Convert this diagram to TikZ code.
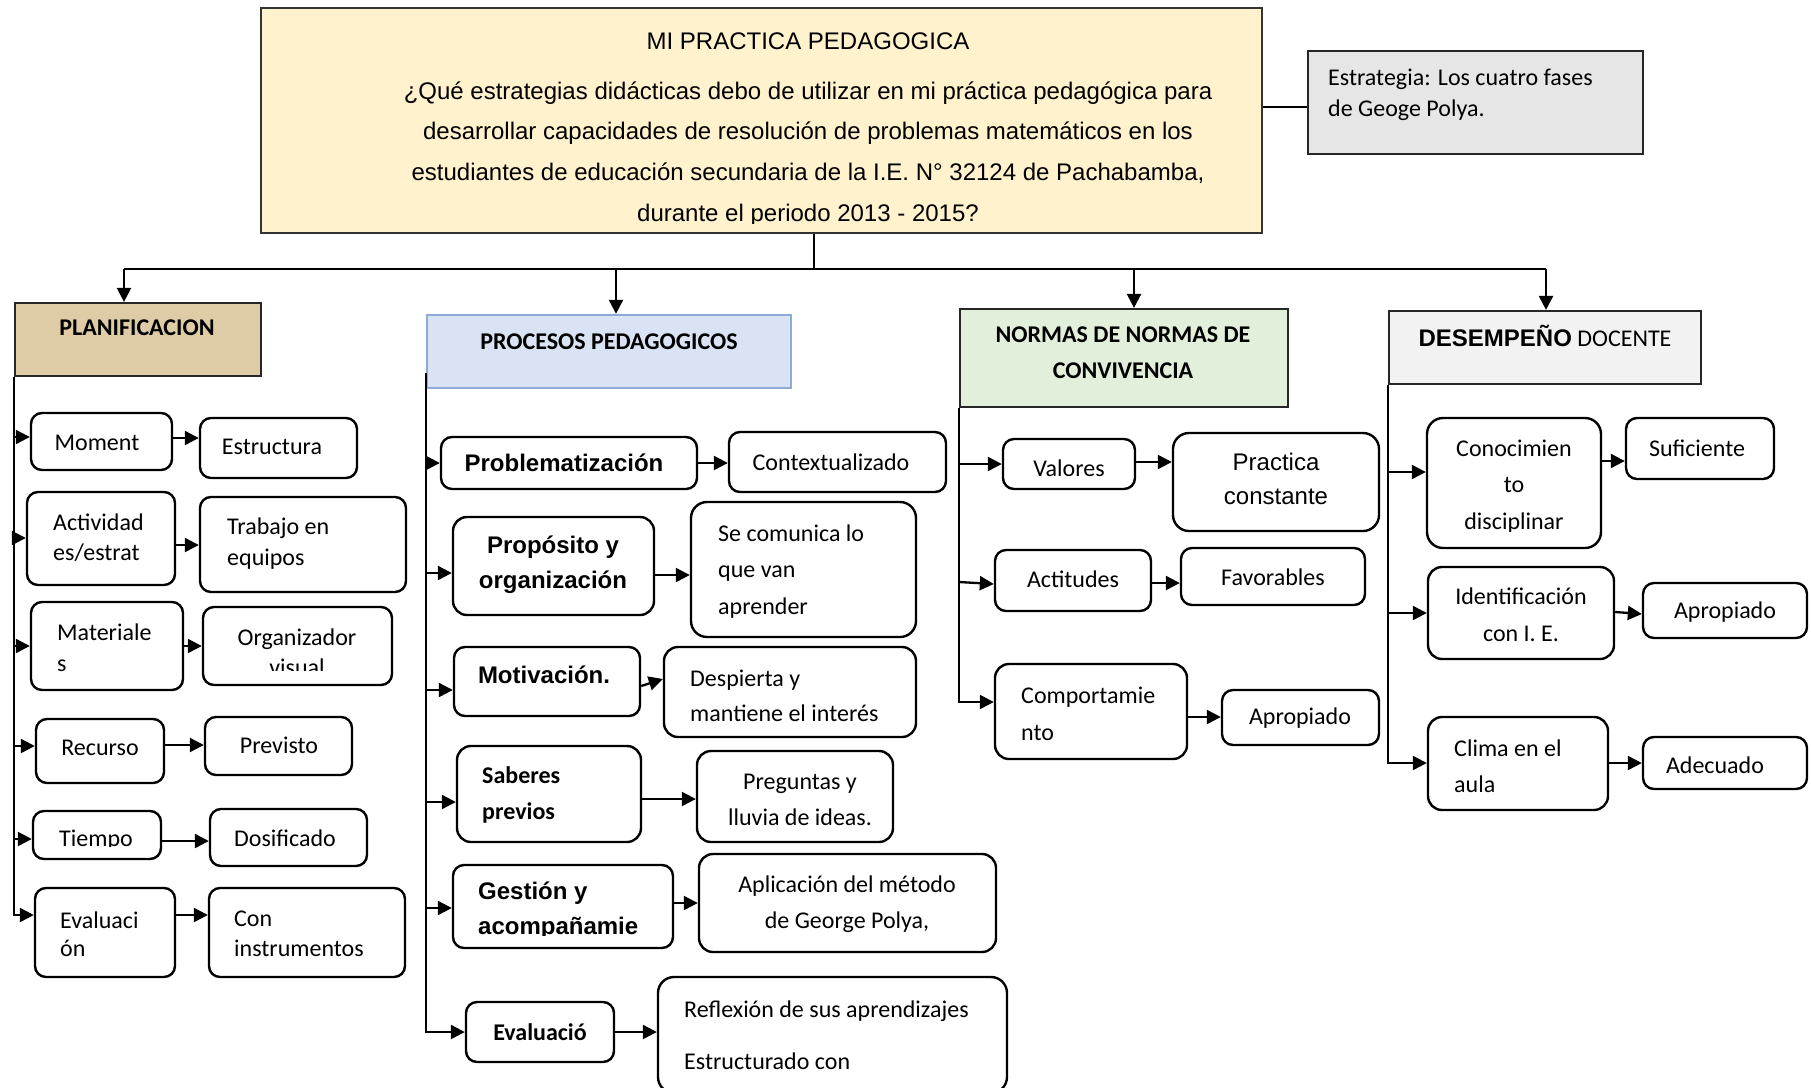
\documentclass[tikz,border=0pt]{standalone}
\usepackage{fontspec}
\setmainfont{Carlito}
\newfontfamily\arialf{Liberation Sans}
\usetikzlibrary{arrows.meta}
\definecolor{mainfill}{HTML}{FFF2CC}
\definecolor{stratfill}{HTML}{E7E6E6}
\definecolor{planfill}{HTML}{DDCCA6}
\definecolor{procfill}{HTML}{DAE3F3}
\definecolor{procdraw}{HTML}{8EAADB}
\definecolor{normfill}{HTML}{E2EFDA}
\definecolor{desfill}{HTML}{F2F2F2}
\newcommand\rb[6]{\node[#1, minimum width={#5-#3}, minimum height={#6-#4}] (#2) at ({(#3+#5)/2},{(#4+#6)/2}) {};}
\newcommand\fs[1]{\fontsize{24}{#1}\selectfont}
\tikzset{
  rbox/.style={draw=black, line width=2.4pt, rounded corners=11pt, fill=white, inner sep=0pt},
  hbox/.style={draw=black!85, line width=2.2pt, inner sep=0pt},
  conn/.style={line width=2.3pt},
  arr/.style={line width=2.3pt, -{Triangle[length=14pt,width=14pt]}},
  tx/.style={inner sep=0pt, font=\fs{30}, align=center},
  tl/.style={inner sep=0pt, anchor=west, align=left, font=\fs{30}},
}
\begin{document}
\begin{tikzpicture}[x=1pt,y=-1pt]
\useasboundingbox (0,0) rectangle (1811,1087);
\fill[white] (0,0) rectangle (1811,1087);
\clip (0,0) rectangle (1811,1087);

% ---------- top ----------
\rb{hbox, fill=mainfill, draw=black!80}{main}{261}{8}{1262}{233}
\node[tx, font=\arialf\fs{30}] (title) at (808,41) {MI PRACTICA PEDAGOGICA};
\begin{scope}
\clip (261,8) rectangle (1262,223);
\node[tx, font=\arialf\fs{40.7}] (question) at (808,154) {¿Qué estrategias didácticas debo de utilizar en mi práctica pedagógica para\\desarrollar capacidades de resolución de problemas matemáticos en los\\estudiantes de educación secundaria de la I.E. N° 32124 de Pachabamba,\\durante el periodo 2013 - 2015?};
\end{scope}
\rb{hbox, fill=stratfill}{strat}{1308}{51}{1643}{154}
\node[tl, font=\fs{31}] (strattext) at (1328,94.5) {Estrategia: Los cuatro fases\\de Geoge Polya.};

% ---------- headers ----------
\rb{hbox, fill=planfill}{plan}{15}{303}{261}{376}
\node[tx, font=\bfseries\fs{30}] (plantext) at (137,328) {PLANIFICACION};
\rb{hbox, fill=procfill, draw=procdraw, line width=2.4pt}{proc}{427}{315}{791}{388}
\node[tx, font=\bfseries\fs{30}] (proctext) at (609,342) {PROCESOS PEDAGOGICOS};
\rb{hbox, fill=normfill}{norm}{960}{309}{1288}{407}
\node[tx, font=\bfseries\fs{36}] (normtext) at (1123,353) {NORMAS DE NORMAS DE\\CONVIVENCIA};
\rb{hbox, fill=desfill}{des}{1389}{311}{1701}{384}
\node[tx] (destext) at (1545,336) {{\arialf\bfseries DESEMPEÑO} DOCENTE};

% ---------- PLANIFICACION ----------
\rb{rbox}{pm1}{31}{413}{172}{470}
\rb{rbox}{pe1}{200}{418}{357}{478}
\rb{rbox}{pm2}{27}{492}{175}{585}
\rb{rbox}{pe2}{200}{497}{406}{592}
\rb{rbox}{pm3}{31}{602}{183}{690}
\rb{rbox}{pe3}{203}{607}{392}{685}
\rb{rbox}{pm4}{36}{719}{164}{783}
\rb{rbox}{pe4}{205}{717}{352}{775}
\rb{rbox}{pm5}{33}{811}{161}{859}
\rb{rbox}{pe5}{210}{809}{367}{866}
\rb{rbox}{pm6}{35}{888}{175}{977}
\rb{rbox}{pe6}{209}{888}{405}{977}
\node[tx] (tm1) at (97,443) {Moment};
\node[tx] (te1) at (272,447) {Estructura};
\node[tl] (tm2) at (53,538) {Actividad\\es/estrat};
\node[tl, font=\fs{31}] (te2) at (227,543.5) {Trabajo en\\equipos};
\node[tl, font=\fs{31}] (tm3) at (57,647.5) {Materiale\\s};
\begin{scope}
\clip (203,600) rectangle (392,670);
\node[tx] (te3) at (297,652) {Organizador\\visual};
\end{scope}
\node[tx] (tm4) at (100,748) {Recurso};
\node[tx] (te4) at (279,745) {Previsto};
\begin{scope}
\clip (33,800) rectangle (161,846);
\node[tx] (tm5) at (96,840) {Tiempo};
\end{scope}
\node[tx] (te5) at (285,838) {Dosificado};
\node[tl, font=\fs{28}] (tm6) at (60,934) {Evaluaci\\ón};
\node[tl] (te6) at (234,934) {Con\\instrumentos};

% ---------- PROCESOS ----------
\rb{rbox}{pp1}{441}{437}{697}{489}
\rb{rbox}{pq1}{729}{432}{946}{492}
\rb{rbox, rounded corners=14pt}{pp2}{453}{517}{654}{615}
\rb{rbox, rounded corners=16pt}{pq2}{691}{502}{916}{637}
\rb{rbox}{pp3}{454}{647}{640}{716}
\rb{rbox, rounded corners=14pt}{pq3}{664}{647}{916}{737}
\rb{rbox, rounded corners=14pt}{pp4}{457}{746}{641}{842}
\rb{rbox, rounded corners=14pt}{pq4}{697}{751}{893}{842}
\rb{rbox}{pp5}{453}{865}{673}{948}
\rb{rbox, rounded corners=14pt}{pq5}{699}{854}{996}{952}
\rb{rbox}{pp6}{466}{1002}{614}{1062}
\rb{rbox, rounded corners=16pt}{pq6}{658}{977}{1007}{1093}
\node[tx, font=\arialf\bfseries\fs{30}] (tp1) at (564,463) {Problematización};
\node[tx] (tq1) at (831,462) {Contextualizado};
\node[tx, font=\arialf\bfseries\fs{35}] (tp2) at (553,564.5) {Propósito y\\organización};
\node[tl, font=\fs{36.5}] (tq2) at (718,571.5) {Se comunica lo\\que van\\aprender};
\node[tx, font=\arialf\bfseries\fs{30}] (tp3) at (544,675) {Motivación.};
\node[tl, font=\fs{35}] (tq3) at (690,695.5) {Despierta y\\mantiene el interés};
\node[tl, font=\bfseries\fs{36}] (tp4) at (482,795) {Saberes\\previos};
\node[tx, font=\fs{36}] (tq4) at (800,800) {Preguntas y\\lluvia de ideas.};
\begin{scope}
\clip (453,860) rectangle (673,935);
\node[tl, font=\arialf\bfseries\fs{35}] (tp5) at (478,910.5) {Gestión y\\acompañamie};
\end{scope}
\node[tx, font=\fs{36}] (tq5) at (847,904) {Aplicación del método\\de George Polya,};
\node[tx, font=\bfseries\fs{30}] (tp6) at (540,1032) {Evaluació};
\node[tl, font=\fs{52}] (tq6) at (684,1035) {Reflexión de sus aprendizajes\\Estructurado con};

% ---------- NORMAS ----------
\rb{rbox}{pn1}{1003}{439}{1135}{489}
\rb{rbox, rounded corners=16pt}{pr1}{1173}{433}{1379}{531}
\rb{rbox}{pn2}{995}{550}{1151}{611}
\rb{rbox}{pr2}{1181}{548}{1365}{605}
\rb{rbox, rounded corners=14pt}{pn3}{995}{664}{1187}{759}
\rb{rbox}{pr3}{1222}{690}{1379}{745}
\node[tx] (tn1) at (1069,468) {Valores};
\node[tx, font=\arialf\fs{34}] (tr1) at (1276,479) {Practica\\constante};
\node[tx] (tn2) at (1073,579) {Actitudes};
\node[tx] (tr2) at (1273,577) {Favorables};
\node[tl, font=\fs{37}] (tn3) at (1021,713.5) {Comportamie\\nto};
\node[tx] (tr3) at (1300,718) {Apropiado};

% ---------- DESEMPENO ----------
\rb{rbox, rounded corners=16pt}{pd1}{1427}{418}{1601}{548}
\rb{rbox}{ps1}{1626}{418}{1774}{479}
\rb{rbox, rounded corners=14pt}{pd2}{1428}{567}{1614}{659}
\rb{rbox}{ps2}{1643}{583}{1807}{638}
\rb{rbox, rounded corners=14pt}{pd3}{1428}{717}{1608}{810}
\rb{rbox}{ps3}{1643}{737}{1807}{789}
\begin{scope}
\clip (1427,410) rectangle (1601,531);
\node[tx, font=\fs{36.5}] (td1) at (1514,486.5) {Conocimien\\to\\disciplinar};
\end{scope}
\node[tx] (ts1) at (1697,448) {Suficiente};
\node[tx, font=\fs{37}] (td2) at (1521,614.5) {Identificación\\con I. E.};
\node[tx] (ts2) at (1725,612) {Apropiado};
\node[tl, font=\fs{36}] (td3) at (1454,766) {Clima en el\\aula};
\node[tx] (ts3) at (1715,765) {Adecuado};

% ---------- connectors ----------
\coordinate (hub) at (814,269);
\coordinate (d1) at (124,269);
\coordinate (d2) at (616,269);
\coordinate (d3) at (1134,269);
\coordinate (d4) at (1546,269);
\draw[line width=1.2pt] (main.south -| hub) -- (hub);
\draw[conn] (d1) -- (d4);
\draw[arr] (d1) -- (d1 |- plan.north);
\draw[arr] (d2) -- (d2 |- proc.north);
\draw[arr] (d3) -- (d3 |- norm.north);
\draw[arr] (d4) -- (d4 |- des.north);
\draw[conn] (main.east |- 0,107) -- (strat.west |- 0,107);

% spines
\draw[arr] (plan.south west) |- (pm6.west |- 0,915);
\draw[arr] (proc.west |- 0,373) |- (pp6.west |- 0,1032);
\draw[arr] (norm.south west) |- (pn3.west |- 0,702);
\draw[arr] (des.south west) |- (pd3.west |- 0,763);

% PLAN arrows
\draw[arr] (plan.west |- 0,437) -- (pm1.west |- 0,437);
\draw[arr] (plan.west |- 0,538) -- (pm2.west |- 0,538);
\draw[arr] (plan.west |- 0,646) -- (pm3.west |- 0,646);
\draw[arr] (plan.west |- 0,746) -- (pm4.west |- 0,746);
\draw[arr] (plan.west |- 0,839) -- (pm5.west |- 0,839);
\draw[arr] (pm1.east |- 0,438) -- (pe1.west |- 0,438);
\draw[arr] (pm2.east |- 0,545) -- (pe2.west |- 0,545);
\draw[arr] (pm3.east |- 0,646) -- (pe3.west |- 0,646);
\draw[arr] (pm4.east |- 0,745) -- (pe4.west |- 0,745);
\draw[arr] (pm5.east |- 0,841) -- (pe5.west |- 0,841);
\draw[arr] (pm6.east |- 0,915) -- (pe6.west |- 0,915);

% PROC arrows
\draw[arr] (proc.west |- 0,463) -- (pp1.west |- 0,463);
\draw[arr] (proc.west |- 0,573) -- (pp2.west |- 0,573);
\draw[arr] (proc.west |- 0,690) -- (pp3.west |- 0,690);
\draw[arr] (proc.west |- 0,802) -- (pp4.west |- 0,802);
\draw[arr] (proc.west |- 0,908) -- (pp5.west |- 0,908);
\draw[arr] (pp1.east |- 0,463) -- (pq1.west |- 0,463);
\draw[arr] (pp2.east |- 0,575) -- (pq2.west |- 0,575);
\draw[arr] (pp3.east |- 0,686) -- (pq3.west |- 0,679);
\draw[arr] (pp4.east |- 0,799) -- (pq4.west |- 0,799);
\draw[arr] (pp5.east |- 0,903) -- (pq5.west |- 0,903);
\draw[arr] (pp6.east |- 0,1032) -- (pq6.west |- 0,1032);

% NORM arrows
\draw[arr] (norm.west |- 0,464) -- (pn1.west |- 0,464);
\draw[arr] (norm.west |- 0,582) -- (pn2.west |- 0,584);
\draw[arr] (pn1.east |- 0,462) -- (pr1.west |- 0,462);
\draw[arr] (pn2.east |- 0,583) -- (pr2.west |- 0,583);
\draw[arr] (pn3.east |- 0,717) -- (pr3.west |- 0,717);

% DES arrows
\draw[arr] (des.west |- 0,472) -- (pd1.west |- 0,472);
\draw[arr] (des.west |- 0,613) -- (pd2.west |- 0,613);
\draw[arr] (pd1.east |- 0,461) -- (ps1.west |- 0,461);
\draw[arr] (pd2.east |- 0,612) -- (ps2.west |- 0,614);
\draw[arr] (pd3.east |- 0,763) -- (ps3.west |- 0,763);
\end{tikzpicture}
\end{document}
